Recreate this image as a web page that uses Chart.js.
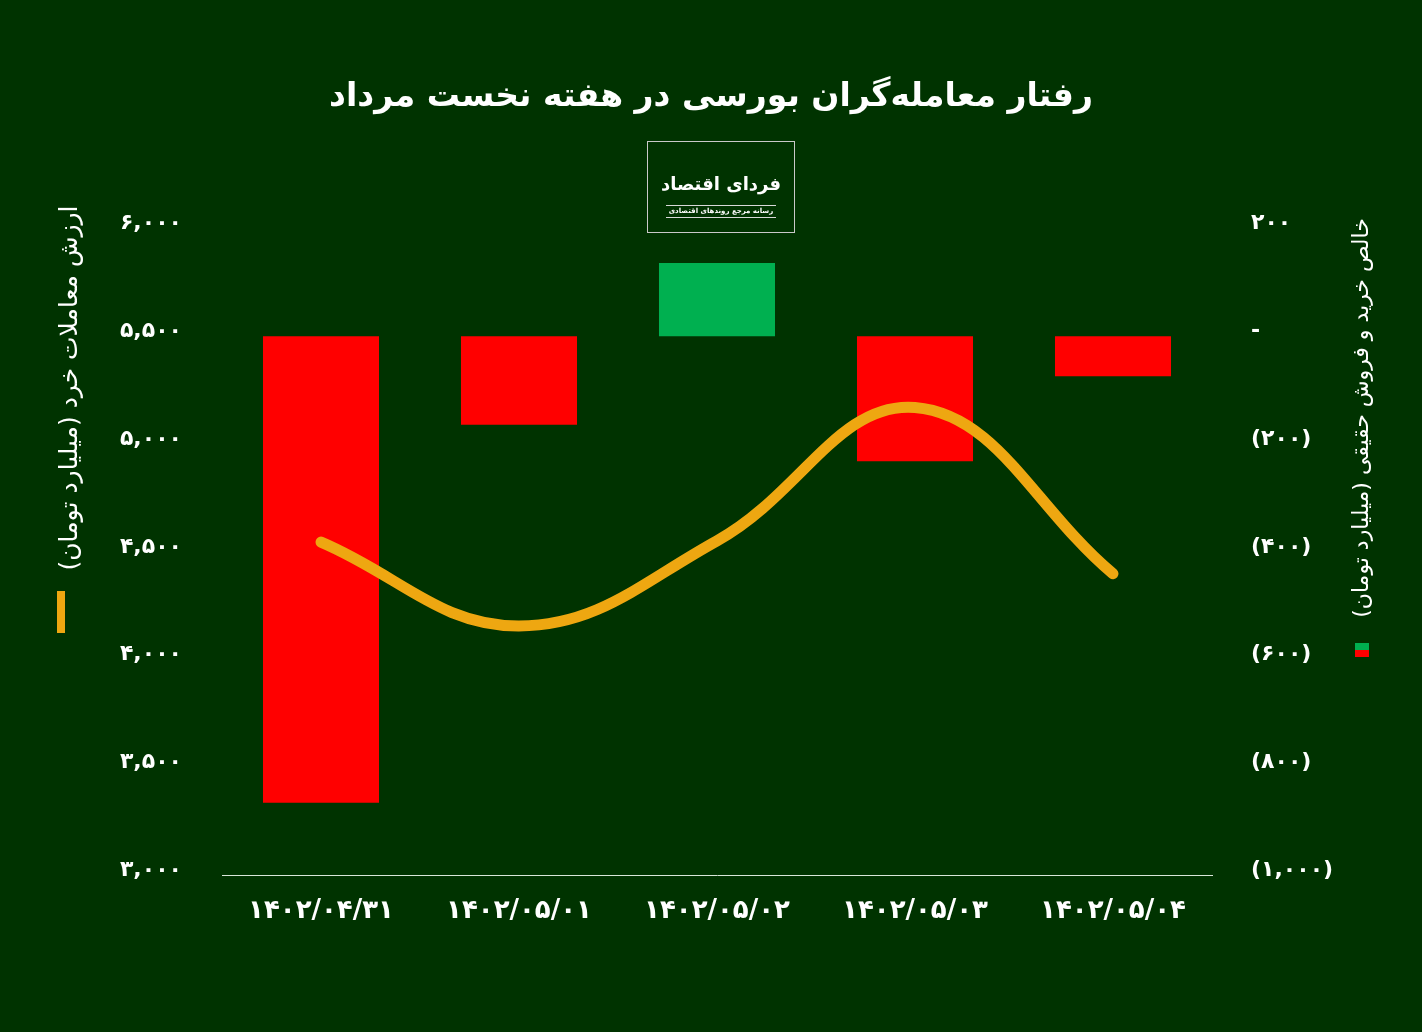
<!DOCTYPE html>
<html lang="fa">
<head>
<meta charset="utf-8">
<title>رفتار معامله‌گران بورسی در هفته نخست مرداد</title>
<script src="https://cdn.jsdelivr.net/npm/chart.js@4.4.1/dist/chart.umd.min.js"></script>
<style>
    html, body { margin: 0; padding: 0; background: #003300; }
    #wrap { position: relative; width: 1422px; height: 1032px; }
    #chart { position: absolute; left: 0; top: 0; }
    .logo {
        position: absolute; left: 647px; top: 141px; width: 148px; height: 92px;
        border: 1px solid #c9c9c9; box-sizing: border-box; color: #fff; text-align: center;
        font-family: "DejaVu Sans", sans-serif; white-space: nowrap;
    }
    .logo .name { position: absolute; left: 0; right: 0; top: 28px; font-size: 18px; font-weight: bold; line-height: 28px; }
    .logo .rule { position: absolute; left: 18px; right: 18px; height: 1px; background: #d8d8d8; }
    .logo .sub { position: absolute; left: 0; right: 0; top: 65px; font-size: 7px; line-height: 9px; font-weight: bold; }
</style>
</head>
<body>
<div id="wrap">
    <canvas id="chart" width="1422" height="1032"></canvas>
    <div class="logo" dir="rtl">
        <div class="name">فردای اقتصاد</div>
        <div class="rule" style="top:63px"></div>
        <div class="sub">رسانه مرجع روندهای اقتصادی</div>
        <div class="rule" style="top:75px"></div>
    </div>
</div>
<script>
(function() {
    'use strict';

    // Data
    const categories = ['۱۴۰۲/۰۴/۳۱', '۱۴۰۲/۰۵/۰۱', '۱۴۰۲/۰۵/۰۲', '۱۴۰۲/۰۵/۰۳', '۱۴۰۲/۰۵/۰۴'];
    const retailValue = [4545, 4156, 4551, 5170, 4398];   // left axis, line
    const netRealFlow = [-866, -164, 136, -232, -74];     // right axis, bars

    const leftTicks = [3000, 3500, 4000, 4500, 5000, 5500, 6000];
    const rightTicks = [-1000, -800, -600, -400, -200, 0, 200];

    const title = 'رفتار معامله‌گران بورسی در هفته نخست مرداد';
    const leftTitle = 'ارزش معاملات خرد (میلیارد تومان)';
    const rightTitle = 'خالص خرید و فروش حقیقی (میلیارد تومان)';

    const BG = '#003300';
    const RED = '#ff0000';
    const GREEN = '#00b050';
    const ORANGE = '#eea711';
    const FONT = '"DejaVu Sans", sans-serif';

    const faDigits = '۰۱۲۳۴۵۶۷۸۹';
    function toFa(str) {
        return String(str).replace(/[0-9]/g, d => faDigits[d]);
    }
    function fmt(v) {
        return toFa(Math.abs(v).toLocaleString('en-US'));
    }

    // Background, axis titles and legend markers
    const decorations = {
        id: 'decorations',
        beforeDraw(chart) {
            const ctx = chart.ctx;
            ctx.save();
            ctx.fillStyle = BG;
            ctx.fillRect(0, 0, chart.width, chart.height);
            ctx.restore();
        },
        afterDraw(chart) {
            const ctx = chart.ctx;
            ctx.save();
            ctx.fillStyle = '#ffffff';
            ctx.textAlign = 'center';
            ctx.textBaseline = 'middle';
            ctx.direction = 'rtl';

            ctx.save();
            ctx.font = '25px ' + FONT;
            ctx.translate(70, 388);
            ctx.rotate(-Math.PI / 2);
            ctx.fillText(leftTitle, 0, 0);
            ctx.restore();

            ctx.save();
            ctx.font = '22px ' + FONT;
            ctx.translate(1362, 418);
            ctx.rotate(-Math.PI / 2);
            ctx.fillText(rightTitle, 0, 0);
            ctx.restore();

            // legend markers
            ctx.fillStyle = ORANGE;
            ctx.fillRect(57, 591, 8, 42);
            ctx.fillStyle = GREEN;
            ctx.fillRect(1355, 643, 14, 7);
            ctx.fillStyle = RED;
            ctx.fillRect(1355, 650, 14, 7);
            ctx.restore();
        }
    };

    function init() {
        const ctx = document.getElementById('chart');

        new Chart(ctx, {
            data: {
                labels: categories,
                datasets: [{
                    type: 'line',
                    label: leftTitle,
                    data: retailValue,
                    yAxisID: 'yLeft',
                    borderColor: ORANGE,
                    borderWidth: 11,
                    borderCapStyle: 'round',
                    borderJoinStyle: 'round',
                    tension: 0.4,
                    pointRadius: 0,
                    fill: false,
                    order: 0
                }, {
                    type: 'bar',
                    label: rightTitle,
                    data: netRealFlow,
                    yAxisID: 'yRight',
                    backgroundColor: netRealFlow.map(v => v >= 0 ? GREEN : RED),
                    borderWidth: 0,
                    barPercentage: 0.586,
                    categoryPercentage: 1,
                    order: 1
                }]
            },
            options: {
                responsive: false,
                animation: false,
                layout: { padding: 0 },
                plugins: {
                    legend: { display: false },
                    tooltip: { enabled: false },
                    title: {
                        display: true,
                        text: title,
                        color: '#ffffff',
                        font: { family: FONT, size: 33, weight: 'bold', lineHeight: 1.2 },
                        padding: { top: 78, bottom: 111 }
                    }
                },
                scales: {
                    x: {
                        grid: { display: false, drawTicks: false },
                        border: { display: true, color: '#d9e6d9', width: 1 },
                        ticks: {
                            color: '#ffffff',
                            padding: 21,
                            font: { family: FONT, size: 26, weight: 'bold' },
                            maxRotation: 0
                        },
                        afterFit(scale) { scale.height = 157; }
                    },
                    yLeft: {
                        position: 'left',
                        min: 3000,
                        max: 6000,
                        grid: { display: false, drawTicks: false },
                        border: { display: false },
                        afterBuildTicks(scale) {
                            scale.ticks = leftTicks.map(v => ({ value: v }));
                        },
                        ticks: {
                            color: '#ffffff',
                            padding: 40,
                            labelOffset: -5,
                            font: { family: FONT, size: 22, weight: 'bold' },
                            callback: v => fmt(v)
                        },
                        afterFit(scale) { scale.width = 222; }
                    },
                    yRight: {
                        position: 'right',
                        min: -1000,
                        max: 200,
                        grid: { display: false, drawTicks: false },
                        border: { display: false },
                        afterBuildTicks(scale) {
                            scale.ticks = rightTicks.map(v => ({ value: v }));
                        },
                        ticks: {
                            color: '#ffffff',
                            padding: 39,
                            labelOffset: -5,
                            font: { family: FONT, size: 22, weight: 'bold' },
                            callback: v => v === 0 ? '-' : (v < 0 ? '(' + fmt(v) + ')' : fmt(v))
                        },
                        afterFit(scale) { scale.width = 210; }
                    }
                }
            },
            plugins: [decorations]
        });
    }

    document.addEventListener('DOMContentLoaded', init);
})();
</script>
</body>
</html>
